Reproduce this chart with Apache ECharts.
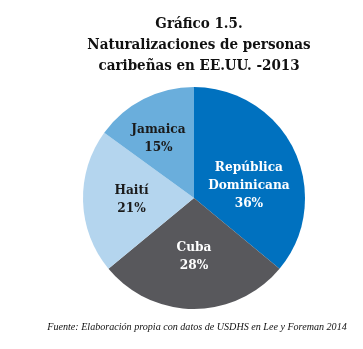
<!DOCTYPE html>
<html>
<head>
<meta charset="utf-8">
<script src="https://cdn.jsdelivr.net/npm/echarts@6/dist/echarts.min.js"></script>
<style>
  html, body { margin: 0; padding: 0; background: #ffffff; }
  #chart { width: 363px; height: 349px; }
</style>
</head>
<body>
<div id="chart"></div>
<script>
// Naturalizaciones de personas caribeñas en EE.UU., 2013 (porcentaje)
const countries = ['República\nDominicana', 'Cuba', 'Haití', 'Jamaica'];
const shares = [36, 28, 21, 15];
const sliceColors = ['#0071BF', '#58585C', '#B4D5EE', '#6AAEDC'];
const labelColors = ['#ffffff', '#ffffff', '#1a1a1a', '#1a1a1a'];
// small nudges of the in-slice labels
const labelNudge = [[2, 12], [0, 0], [-4, 0], [-9, -7]];

const serif = '"DejaVu Serif Condensed", "DejaVu Serif", "Liberation Serif", serif';

const chart = echarts.init(document.getElementById('chart'));
chart.setOption({
  backgroundColor: '#ffffff',
  animation: false,
  title: [
    {
      text: 'Gráfico 1.5.\nNaturalizaciones de personas\ncaribeñas en EE.UU. -2013',
      left: 194,
      top: 9,
      textAlign: 'center',
      textStyle: {
        fontFamily: serif,
        fontWeight: 'bold',
        fontSize: 15,
        lineHeight: 21,
        color: '#111111'
      }
    },
    {
      text: 'Fuente: Elaboración propia con datos de USDHS en Lee y Foreman 2014',
      left: 192,
      top: 317,
      textAlign: 'center',
      textStyle: {
        fontFamily: '"Liberation Serif", serif',
        fontStyle: 'italic',
        fontWeight: 'normal',
        fontSize: 10.1,
        color: '#111111'
      }
    }
  ],
  series: [{
    type: 'pie',
    center: [194, 198],
    radius: 111,
    startAngle: 90,
    clockwise: true,
    label: {
      position: 'inside',
      fontFamily: serif,
      fontWeight: 'bold',
      fontSize: 13.5,
      lineHeight: 18,
      formatter: p => p.name + '\n' + p.value + '%'
    },
    labelLine: { show: false },
    itemStyle: { borderWidth: 0 },
    emphasis: { disabled: true },
    data: countries.map((name, i) => ({
      name: name,
      value: shares[i],
      itemStyle: { color: sliceColors[i] },
      label: { color: labelColors[i], offset: labelNudge[i] }
    }))
  }]
});
</script>
</body>
</html>
